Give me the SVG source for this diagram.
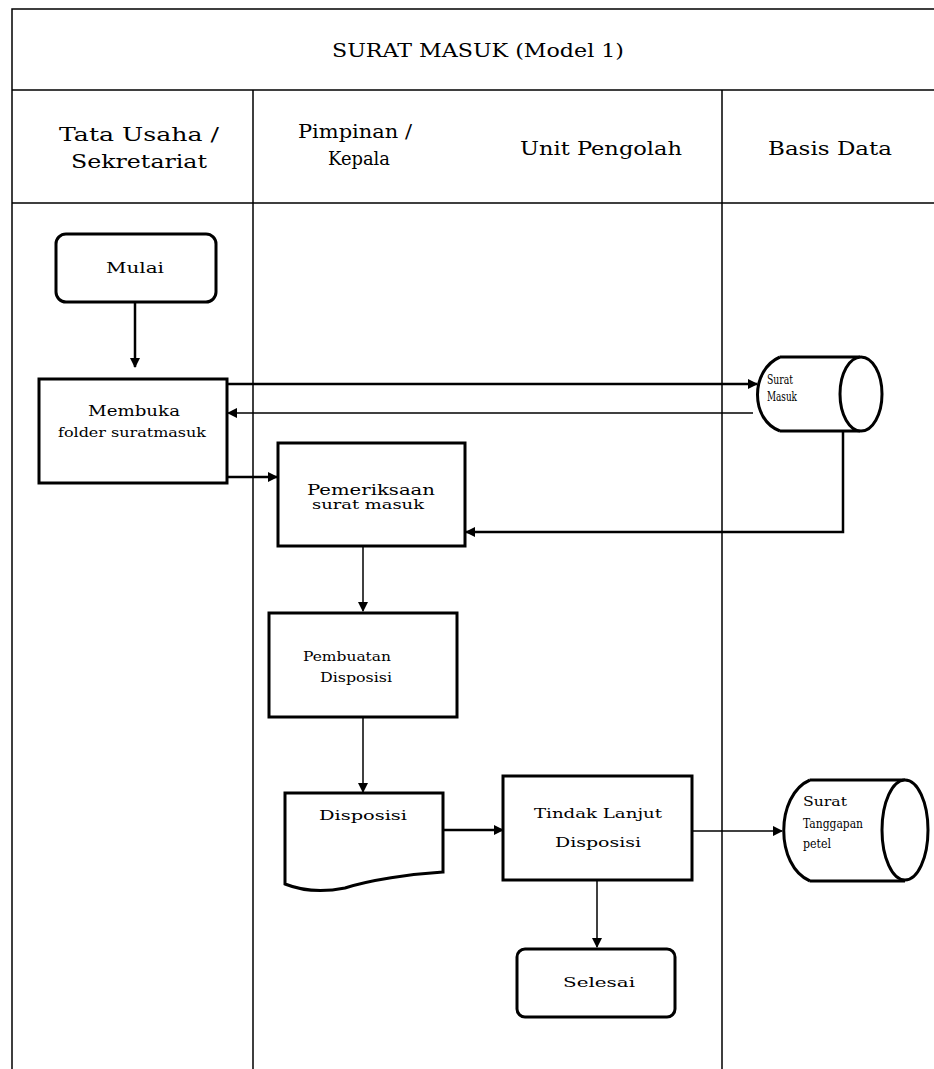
<svg xmlns="http://www.w3.org/2000/svg" width="934" height="1069" viewBox="0 0 934 1069">
<defs>
<marker id="ah" viewBox="0 0 10 10" refX="9" refY="5" markerWidth="4" markerHeight="4" orient="auto" markerUnits="strokeWidth"><path d="M0,0 L10,5 L0,10 z" fill="#000"/></marker>
<marker id="ahs" viewBox="0 0 10 10" refX="9" refY="5" markerWidth="7" markerHeight="7" orient="auto" markerUnits="strokeWidth"><path d="M0,0 L10,5 L0,10 z" fill="#000"/></marker>
<style>
.frame{fill:none;stroke:#000;stroke-width:1.5}
.box{fill:#fff;stroke:#000;stroke-width:3}
.t{font-family:"DejaVu Serif",serif;fill:#000;text-anchor:middle}
.st{text-anchor:start}
.h{font-size:18px}
.n{font-size:15px}
.s{font-size:13px}
.x{font-size:12px}
.thick{fill:none;stroke:#000;stroke-width:2.5}
.thin{fill:none;stroke:#000;stroke-width:1.5}
</style>
</defs>
<rect width="934" height="1069" fill="#fff"/>
<g id="frame">
<path class="frame" d="M12,1069 V9 H934 M12,90 H934 M12,203 H934 M253,90 V1069 M722,90 V1069"/>
<text class="t h" x="478" y="57" textLength="292" lengthAdjust="spacingAndGlyphs">SURAT MASUK (Model 1)</text>
<text class="t h" x="139" y="141" textLength="160" lengthAdjust="spacingAndGlyphs">Tata Usaha /</text>
<text class="t h" x="139" y="168" textLength="136" lengthAdjust="spacingAndGlyphs">Sekretariat</text>
<text class="t h" x="355" y="138" textLength="114" lengthAdjust="spacingAndGlyphs">Pimpinan /</text>
<text class="t h" x="359" y="165" textLength="62" lengthAdjust="spacingAndGlyphs">Kepala</text>
<text class="t h" x="601" y="155" textLength="162" lengthAdjust="spacingAndGlyphs">Unit Pengolah</text>
<text class="t h" x="830" y="155" textLength="124" lengthAdjust="spacingAndGlyphs">Basis Data</text>
</g>
<g id="connectors">
<path class="thick" d="M135,303 V367" marker-end="url(#ah)"/>
<path class="thick" d="M227,384 H757" marker-end="url(#ah)"/>
<path class="thin" d="M753,413 H228" marker-end="url(#ahs)"/>
<path class="thick" d="M227,477 H277" marker-end="url(#ah)"/>
<path class="thick" d="M843,431 V532 H466" marker-end="url(#ah)"/>
<path class="thin" d="M363,547 V611" marker-end="url(#ahs)"/>
<path class="thin" d="M363,718 V792" marker-end="url(#ahs)"/>
<path class="thick" d="M443,830 H503" marker-end="url(#ah)"/>
<path class="thin" d="M692,831 H782" marker-end="url(#ahs)"/>
<path class="thin" d="M597,880 V947" marker-end="url(#ahs)"/>
</g>
<g id="mulai">
<rect class="box" x="56" y="234" width="160" height="68" rx="10"/>
<text class="t n" x="135" y="273" textLength="58" lengthAdjust="spacingAndGlyphs">Mulai</text>
</g>
<g id="membuka">
<rect class="box" x="39" y="379" width="188" height="104"/>
<text class="t n" x="134" y="416" textLength="92" lengthAdjust="spacingAndGlyphs">Membuka</text>
<text class="t x" x="132" y="437" textLength="148" lengthAdjust="spacingAndGlyphs">folder suratmasuk</text>
</g>
<g id="surat-masuk">
<path class="box" d="M780,357 H860 M780,431 H860 M780,357 C750,370 750,420 780,431"/>
<ellipse class="box" cx="861" cy="394" rx="21" ry="37"/>
<text class="t x st" x="767" y="384" textLength="26" lengthAdjust="spacingAndGlyphs">Surat</text>
<text class="t x st" x="767" y="401" textLength="30" lengthAdjust="spacingAndGlyphs">Masuk</text>
</g>
<g id="pemeriksaan">
<rect class="box" x="278" y="443" width="187" height="103"/>
<text class="t n" x="371" y="495" textLength="128" lengthAdjust="spacingAndGlyphs">Pemeriksaan</text>
<text class="t s" x="368" y="509" textLength="112" lengthAdjust="spacingAndGlyphs">surat masuk</text>
</g>
<g id="pembuatan">
<rect class="box" x="269" y="613" width="188" height="104"/>
<text class="t x" x="347" y="661" textLength="88" lengthAdjust="spacingAndGlyphs">Pembuatan</text>
<text class="t x" x="356" y="682" textLength="72" lengthAdjust="spacingAndGlyphs">Disposisi</text>
</g>
<g id="disposisi">
<path class="box" d="M285,793 H443 V872 C410,874 370,880 345,888 C320,893 300,890 285,884 Z"/>
<text class="t s" x="363" y="820" textLength="88" lengthAdjust="spacingAndGlyphs">Disposisi</text>
</g>
<g id="tindak-lanjut">
<rect class="box" x="503" y="776" width="189" height="104"/>
<text class="t s" x="598" y="818" textLength="128" lengthAdjust="spacingAndGlyphs">Tindak Lanjut</text>
<text class="t s" x="598" y="847" textLength="86" lengthAdjust="spacingAndGlyphs">Disposisi</text>
</g>
<g id="surat-tanggapan">
<path class="box" d="M810,780 H905 M810,881 H905 M810,780 C775,795 775,866 810,881"/>
<ellipse class="box" cx="905" cy="830" rx="23" ry="50"/>
<text class="t x st" x="803" y="806" textLength="44" lengthAdjust="spacingAndGlyphs">Surat</text>
<text class="t x st" x="803" y="828" textLength="60" lengthAdjust="spacingAndGlyphs">Tanggapan</text>
<text class="t x st" x="803" y="848" textLength="28" lengthAdjust="spacingAndGlyphs">petel</text>
</g>
<g id="selesai">
<rect class="box" x="517" y="949" width="158" height="68" rx="8"/>
<text class="t s" x="599" y="987" textLength="72" lengthAdjust="spacingAndGlyphs">Selesai</text>
</g>
</svg>
